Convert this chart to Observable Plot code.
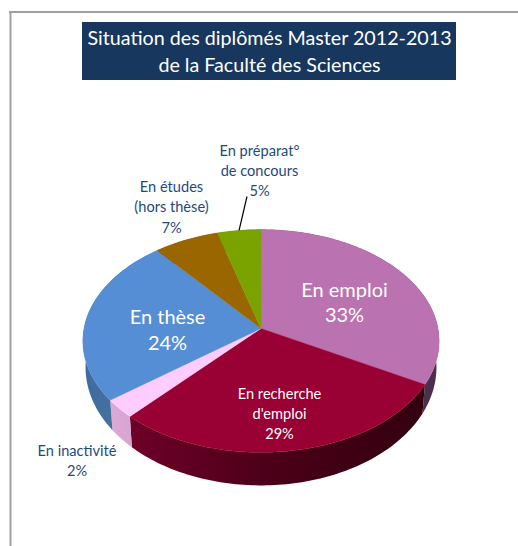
<!DOCTYPE html>
<html><head><meta charset="utf-8">
<style>html,body{margin:0;padding:0;background:#fff}svg{display:block}</style>
<script src="https://cdn.jsdelivr.net/npm/d3@7"></script>
<script src="https://cdn.jsdelivr.net/npm/@observablehq/plot@0.6"></script>
</head><body><div id="chart"></div>
<script>
const categories = ["En emploi","En recherche d'emploi","En inactivité","En thèse","En études (hors thèse)","En préparat° de concours"];
const shownPercent = [33,29,2,24,7,5];
const values = [33,28.9,2.7,24.4,6.6,4.4];
const topColors = ["#ba72b0","#990033","#ffccff","#558ed5","#996600","#7aa300"];
const wallLeft  = ["#5c3c5e","#6e0029","#dcaad8","#3f6ba3","#7a5200","#5f8000"];
const wallMid   = ["#533556","#4a0018","#daa7d5","#457398","#7a5200","#5f8000"];
const wallRight = ["#4a2e4c","#33000f","#d8a4d2","#4a7cba","#7a5200","#5f8000"];
const labelLines = [["En emploi","33%"],["En recherche","d'emploi","29%"],["En inactivité","2%"],["En thèse","24%"],["En études","(hors thèse)","7%"],["En préparat°","de concours","5%"]];
const titleLines = ["Situation des diplômés Master 2012-2013","de la Faculté des Sciences"];

// layout
const W=518,H=546,cx=260.5,cy=328,a=177,b=110,k=0.112;
const sxWall=0.985,syWall=1.06,dyWall=25.6;
const project=(t)=>{const u=Math.sin(t),v=-Math.cos(t),d=1-k*v;return [a*u/d,b*v/d];};
const topPt=t=>{const [X,Y]=project(t);return [cx+X,cy+Y];};
const botPt=t=>{const [X,Y]=project(t);return [cx+X*sxWall,cy+Y*syWall+dyWall];};

const arcs=d3.pie().sort(null)(values);
const faces=[],walls=[];
arcs.forEach((s,i)=>{
  const steps=Math.max(2,Math.round((s.endAngle-s.startAngle)/0.02));
  const angles=d3.range(steps+1).map(j=>s.startAngle+(s.endAngle-s.startAngle)*j/steps);
  [[cx,cy],...angles.map(topPt)].forEach(p=>faces.push({id:i,x:p[0],y:p[1],c:topColors[i]}));
  [...angles.map(topPt),...angles.slice().reverse().map(botPt)].forEach(p=>walls.push({id:i,x:p[0],y:p[1],c:`url(#wall${i})`}));
});
const midAngle=i=>(arcs[i].startAngle+arcs[i].endAngle)/2;
const rim=topPt(midAngle(5));
const leader=[{x1:246.5,y1:196,x2:rim[0],y2:rim[1]}];

const labelLayout=[
 {x:344,y:[290,315],size:20,fill:"#fff"},
 {x:279,y:[394,414,434],size:14.6,fill:"#fff"},
 {x:76.5,y:[451,471],size:14.6,fill:"#1f497d"},
 {x:167,y:[317,343],size:20,fill:"#fff"},
 {x:171,y:[187,207,228],size:14.6,fill:"#1f497d"},
 {x:259,y:[151,171,191],size:14.6,fill:"#1f497d"}];
const labelRows=labelLines.flatMap((ls,i)=>ls.map((t,j)=>({t,x:labelLayout[i].x,y:labelLayout[i].y[j],size:labelLayout[i].size,fill:labelLayout[i].fill})));
const font="Lato";

const gradients=()=>{
  const defs=d3.create("svg:defs");
  wallLeft.forEach((c,i)=>{
    const g=defs.append("linearGradient").attr("id",`wall${i}`);
    g.append("stop").attr("offset","0%").attr("stop-color",c);
    g.append("stop").attr("offset","50%").attr("stop-color",wallMid[i]);
    g.append("stop").attr("offset","100%").attr("stop-color",wallRight[i]);
  });
  return defs.node();
};
const polygon=(d,sw)=>Plot.line(d,{x:"x",y:"y",z:"id",fill:"c",stroke:sw?"c":"none",strokeWidth:sw,curve:"linear-closed"});

const chart=Plot.plot({
  width:W,height:H,margin:0,
  x:{domain:[0,W],range:[0,W],axis:null},
  y:{domain:[0,H],range:[0,H],axis:null},
  color:{type:"identity"},
  style:{background:"#fff"},
  marks:[
    gradients,
    Plot.ruleY([11.5],{x1:9,x2:W,stroke:"#a0a0a0",strokeWidth:2}),
    Plot.ruleX([10],{y1:11,y2:H,stroke:"#a0a0a0",strokeWidth:2}),
    Plot.rect([{x1:82,x2:456,y1:22,y2:80}],{x1:"x1",x2:"x2",y1:"y1",y2:"y2",fill:"#17375e"}),
    Plot.text(titleLines.map((t,i)=>({t,y:[38,65][i]})),{x:()=>269,y:"y",text:"t",fill:"#fff",fontSize:19.7,fontFamily:font,textAnchor:"middle",lineAnchor:"middle"}),
    polygon(walls,0),
    polygon(faces,0.4),
    Plot.link(leader,{x1:"x1",y1:"y1",x2:"x2",y2:"y2",stroke:"#000",strokeWidth:1.2}),
    Plot.text(labelRows,{x:"x",y:"y",text:"t",fill:"fill",fontSize:"size",fontFamily:font,textAnchor:"middle",lineAnchor:"middle"})
  ]
});
document.getElementById("chart").append(chart);
</script></body></html>
